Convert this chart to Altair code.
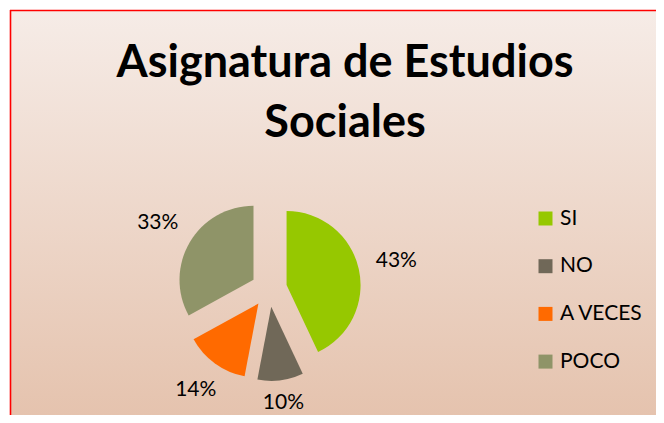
import altair as alt
import pandas as pd

categories = ["SI", "NO", "A VECES", "POCO"]
values = [43, 10, 14, 33]
colors = ["#96C800", "#706858", "#FF6A00", "#8F9468"]
title_lines = ["Asignatura de Estudios", "Sociales"]

W, H = 648, 407
CX, CY = 261, 281
R = 74
EXPLODE = 18
LR0 = 108
FONT = "Lato"

df = pd.DataFrame({"cat": categories, "value": values, "idx": list(range(len(categories)))})

base = (
    alt.Chart(df)
    .transform_window(cum="sum(value)", sort=[alt.SortField("idx")], frame=[None, 0])
    .transform_joinaggregate(total="sum(value)")
    .transform_calculate(t0="(datum.cum - datum.value) / datum.total * 2 * PI")
    .transform_calculate(t1="datum.cum / datum.total * 2 * PI")
    .transform_calculate(mid="(datum.t0 + datum.t1) / 2")
    .transform_calculate(cx=f"{CX} + {EXPLODE} * sin(datum.mid)")
    .transform_calculate(cy=f"{CY} - {EXPLODE} * cos(datum.mid)")
    .transform_calculate(lr=f"{LR0} + 22 * abs(sin(datum.mid)) + 4.5 * abs(cos(datum.mid))")
    .transform_calculate(lx=f"{CX} + datum.lr * sin(datum.mid)")
    .transform_calculate(ly=f"{CY} - datum.lr * cos(datum.mid)")
    .transform_calculate(pct="format(datum.value / datum.total, '.0%')")
)

one = pd.DataFrame({"a": [0]})

bg = alt.Chart(one).mark_rect(
    color=alt.Gradient(
        gradient="linear",
        x1=0, x2=0, y1=0, y2=1,
        stops=[
            alt.GradientStop(color="#F6ECE7", offset=0),
            alt.GradientStop(color="#E5C3AE", offset=1),
        ],
    )
).encode(x=alt.value(2), x2=alt.value(W), y=alt.value(2), y2=alt.value(H))

border_l = alt.Chart(one).mark_rule(color="#FF0000", strokeWidth=1.6).encode(
    x=alt.value(2.5), y=alt.value(2), y2=alt.value(H)
)
border_t = alt.Chart(one).mark_rule(color="#FF0000", strokeWidth=1.6).encode(
    x=alt.value(2), x2=alt.value(W), y=alt.value(2.5)
)

pie = base.mark_arc(radius=R).encode(
    theta=alt.Theta("t0:Q", scale=None),
    theta2=alt.Theta2("t1:Q"),
    x=alt.X("cx:Q", scale=None, axis=None),
    y=alt.Y("cy:Q", scale=None, axis=None),
    color=alt.Color(
        "cat:N",
        scale=alt.Scale(domain=categories, range=colors),
        legend=alt.Legend(
            title=None,
            orient="none",
            legendX=527,
            legendY=200,
            symbolType="square",
            symbolSize=196,
            symbolStrokeWidth=0,
            labelFont=FONT,
            labelFontSize=21,
            labelColor="#000000",
            labelOffset=4,
            rowPadding=25.7,
            padding=0,
        ),
    ),
)

labels = base.mark_text(font=FONT, fontSize=21, color="#000000", align="center", baseline="middle").encode(
    x=alt.X("lx:Q", scale=None, axis=None),
    y=alt.Y("ly:Q", scale=None, axis=None),
    text="pct:N",
)

t1 = alt.Chart(pd.DataFrame({"t": [title_lines[0]]})).mark_text(
    font=FONT, fontSize=45, fontWeight="bold", color="#000000", align="center", baseline="alphabetic"
).encode(text="t:N", x=alt.value(337), y=alt.value(68.7))
t2 = alt.Chart(pd.DataFrame({"t": [title_lines[1]]})).mark_text(
    font=FONT, fontSize=45, fontWeight="bold", color="#000000", align="center", baseline="alphabetic"
).encode(text="t:N", x=alt.value(337), y=alt.value(128.7))

chart = (
    alt.layer(bg, border_l, border_t, pie, labels, t1, t2)
    .properties(width=W, height=H, padding=0, autosize="none", background="white")
    .configure_view(stroke=None)
)

chart.save("out.html", embed_options={"renderer": "svg", "actions": False})
